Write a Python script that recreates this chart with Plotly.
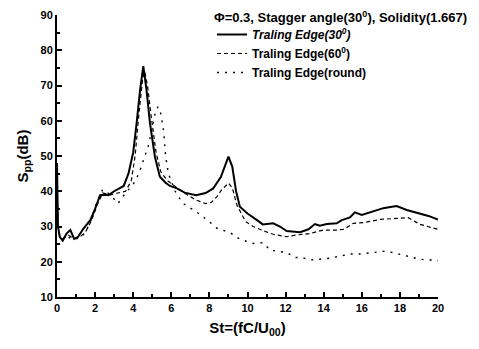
import plotly.graph_objects as go

# Sound pressure spectra S_pp(dB) versus Strouhal number for three trailing-edge shapes
st_30 = [0, 0.05, 0.15, 0.3, 0.5, 0.7, 0.9, 1.1, 1.4, 1.75, 2.0, 2.26, 2.5, 2.7, 3.0, 3.3, 3.5,
         3.75, 4.0, 4.18, 4.36, 4.53, 4.7, 4.88, 5.14, 5.4, 5.7, 5.93, 6.3, 6.7, 7.0, 7.3, 7.8,
         8.2, 8.6, 8.85, 9.0, 9.2, 9.4, 9.6, 10.0, 10.5, 10.8, 11.35, 11.7, 12.06, 12.4, 12.76,
         13.2, 13.54, 13.8, 14.16, 14.68, 14.95, 15.38, 15.64, 16.0, 16.6, 17.13, 17.5, 17.83,
         18.36, 19.06, 19.5, 20.0]
spp_30 = [48, 30, 27, 26, 28, 29, 26.5, 27, 29.5, 31.8, 35, 38.9, 39, 38.9, 40, 41, 41.5,
          45, 51, 59.3, 68.7, 75.5, 68.7, 59.3, 49.8, 44.1, 42.4, 41.5, 40.8, 39.6, 39.2, 38.9, 39.5,
          40.8, 44, 48, 49.8, 47, 40, 35.6, 33.7, 31.8, 30.6, 30.9, 30, 28.7, 28.5, 28.4,
          29.2, 30.7, 30.2, 30.7, 30.9, 31.8, 32.6, 34, 33.3, 34.2, 35.2, 35.5, 35.8,
          34.7, 33.7, 33, 32]

st_60 = [0, 0.05, 0.15, 0.3, 0.6, 0.9, 1.2, 1.5, 1.8, 2.1, 2.4, 2.8, 3.2, 3.6, 3.9, 4.1, 4.3,
         4.5, 4.6, 4.75, 4.95, 5.2, 5.45, 5.8, 6.3, 6.7, 7.3, 7.8, 8.1, 8.4, 8.64, 9.0, 9.2, 9.45,
         9.9, 10.3, 10.83, 11.35, 12.06, 12.58, 13.28, 13.98, 14.68, 15.03, 15.3, 15.55, 16.08,
         16.96, 17.83, 18.44, 19.06, 19.5, 20.0]
spp_60 = [44, 30, 27, 26.5, 27.5, 26.5, 27, 28.5, 31.5, 36, 39.5, 39, 39.5, 40, 43, 50, 62,
          72, 74, 70, 61, 51, 45.5, 43, 41, 39.4, 37.5, 36.5, 36.8, 38.5, 40.4, 42.3, 41, 36,
          31.4, 30, 28.8, 27.8, 27.1, 27.6, 28, 29, 29, 29.2, 30, 30.9, 31.1,
          32, 32.3, 32.5, 30.6, 30, 29.2]

st_rd = [0, 0.05, 0.2, 0.4, 0.7, 1.0, 1.3, 1.7, 2.1, 2.4, 2.8, 3.2, 3.6, 4.0, 4.3, 4.6, 4.8,
         5.0, 5.15, 5.3, 5.45, 5.6, 5.7, 5.85, 6.2, 6.6, 7.3, 7.9, 8.4, 9.1, 9.6, 10.3, 10.83,
         11.18, 11.6, 12.06, 12.5, 12.85, 13.28, 13.8, 14.33, 14.86, 15.38, 15.9, 16.78, 17.2,
         17.65, 18.1, 18.53, 18.97, 19.4, 19.84, 20.0]
spp_rd = [42, 29, 26.5, 26, 27, 26.5, 27, 30.5, 37, 40.5, 39, 36.5, 39.5, 42, 45, 50, 53,
          58, 62, 64, 62, 57, 50, 45, 40, 36.6, 34.2, 31.8, 29.5, 28.2, 26.4, 25.2, 25.4,
          23.3, 23, 22.6, 21.2, 21.2, 20.5, 20.8, 21, 21.6, 22.2, 22.2, 22.8, 23,
          22.6, 21.9, 21.4, 20.8, 20.5, 20.5, 20.3]

names = ["<i>Traling Edge(30<sup>0</sup>)</i>",
         "Traling Edge(60<sup>0</sup>)",
         "Traling Edge(round)"]
title_text = "<b>Φ=0.3, Stagger angle(30<sup>0</sup>), Solidity(1.667)</b>"
x_ticks = [0, 2, 4, 6, 8, 10, 12, 14, 16, 18, 20]
y_ticks = [10, 20, 30, 40, 50, 60, 70, 80, 90]

FONT = "Liberation Sans, Arial, sans-serif"

fig = go.Figure()
fig.add_trace(go.Scatter(x=st_30, y=spp_30, mode="lines", name=names[0],
                         line=dict(color="black", width=2)))
fig.add_trace(go.Scatter(x=st_60, y=spp_60, mode="lines", name=names[1],
                         line=dict(color="black", width=1.2, dash="4px,3px")))
fig.add_trace(go.Scatter(x=st_rd, y=spp_rd, mode="lines", name=names[2],
                         line=dict(color="black", width=1.4, dash="2px,6px")))

axis_common = dict(
    showline=True, linecolor="black", linewidth=2, mirror=False,
    ticks="inside", ticklen=5, tickwidth=1.5, tickcolor="black",
    showgrid=False, zeroline=False,
    tickfont=dict(family=FONT, size=11, color="black", weight="bold"),
)

fig.update_xaxes(range=[0, 20], tickvals=x_ticks, tickangle=0,
                 minor=dict(dtick=1, ticks="inside", ticklen=3, tickcolor="black"),
                 title=dict(text="<b>St=(fC/U<sub>00</sub>)</b>",
                            font=dict(family=FONT, size=15, color="black"), standoff=9),
                 **axis_common)
fig.update_yaxes(range=[10, 90], tickvals=y_ticks,
                 minor=dict(dtick=5, ticks="inside", ticklen=3, tickcolor="black"),
                 title=dict(text="<b>S<sub>pp</sub>(dB)</b>",
                            font=dict(family=FONT, size=15, color="black"), standoff=8),
                 **axis_common)

# legend heading as a free text line above the legend items
fig.add_annotation(text=title_text, xref="paper", yref="paper",
                   x=(212 - 57) / 381, y=1 - (17 - 15) / 282,
                   xanchor="left", yanchor="middle", showarrow=False,
                   font=dict(family=FONT, size=13, color="black"))

fig.update_layout(
    width=479, height=349,
    margin=dict(l=57, r=41, t=15, b=52, autoexpand=False),
    paper_bgcolor="white", plot_bgcolor="white",
    font=dict(family=FONT, color="black"),
    showlegend=True,
    legend=dict(
        x=(212 - 57) / 381, y=1 - (20 - 15) / 282, xanchor="left", yanchor="top",
        bgcolor="rgba(0,0,0,0)", borderwidth=0,
        font=dict(family=FONT, size=12, color="black", weight="bold"),
        tracegroupgap=0, itemwidth=30,
    ),
)

fig.write_html("out.html")
